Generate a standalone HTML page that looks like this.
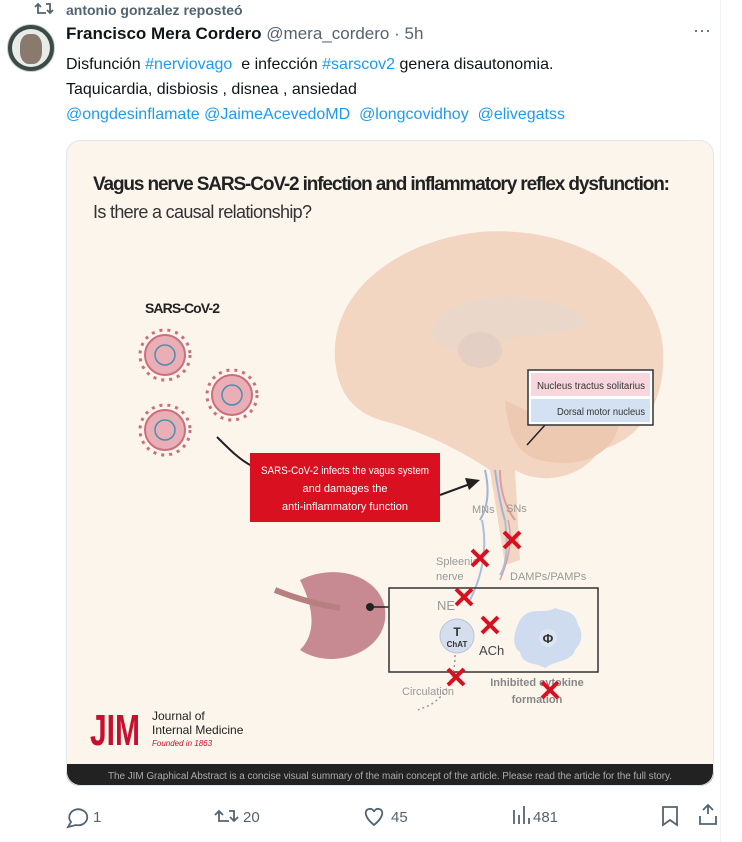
<!DOCTYPE html>
<html><head><meta charset="utf-8"><style>
body{margin:0;width:742px;height:842px;background:#fff;font-family:"Liberation Sans",sans-serif;overflow:hidden;position:relative}
.a{position:absolute;white-space:nowrap}
.b{color:#1d9bf0}
</style></head><body>
<div class="a" style="left:66px;top:2px;color:#536471;font-size:14px;font-weight:bold">antonio gonzalez reposteó</div>
<div class="a" style="left:7px;top:24px;width:46px;height:46px;border-radius:50%;background:#3a4a48;border:1px solid #ccc;overflow:hidden">
<div style="position:absolute;left:4px;top:4px;width:38px;height:38px;border-radius:50%;background:#e8ece8"></div>
<div style="position:absolute;left:12px;top:9px;width:22px;height:30px;background:#8a7a6e;border-radius:40%"></div></div>
<div class="a" style="left:66px;top:24px;font-size:17px"><b style="color:#0f1419">Francisco Mera Cordero</b> <span style="color:#536471">@mera_cordero · 5h</span></div>
<div class="a" style="left:693px;top:20px;color:#536471;font-size:18px">···</div>
<div class="a" style="left:66px;top:52px;font-size:16px;line-height:25px;color:#0f1419">Disfunción <span class="b">#nerviovago</span>&nbsp; e infección <span class="b">#sarscov2</span> genera disautonomia.<br>Taquicardia, disbiosis , disnea , ansiedad<br><span class="b">@ongdesinflamate @JaimeAcevedoMD &nbsp;@longcovidhoy &nbsp;@elivegatss</span></div>
<div class="a" style="left:720px;top:0;width:1px;height:842px;background:#eff3f4"></div>
<svg class="a" style="left:0;top:0" width="742" height="842" viewBox="0 0 742 842">
<defs><clipPath id="c"><rect x="66" y="140" width="648" height="646" rx="14"/></clipPath></defs>
<g fill="none" stroke="#536471" stroke-width="1.8">
<path d="M38 4 v9 h8 M35 7 l3 -3 l3 3 M46 4 h4 v9 M47 10 l3 3 l3 -3"/></g>
<g clip-path="url(#c)">
<rect x="66" y="140" width="648" height="646" fill="#fbf5ec"/>
<path d="M335 360 C330 290 400 240 480 232 C570 225 650 270 662 340 C670 400 640 440 600 450 C580 480 540 485 515 470 L520 560 L505 565 L490 470 C460 450 420 430 380 420 C350 410 338 390 335 360Z" fill="#f2d6c2"/>
<path d="M430 330 C450 290 540 285 590 320 C570 340 520 330 480 345 C455 355 440 350 430 330Z" fill="#ead7c9"/>
<ellipse cx="480" cy="350" rx="22" ry="18" fill="#e3cfc3"/>
<path d="M505 400 C540 420 590 430 620 420 C615 455 580 470 540 460 C520 455 508 440 505 400Z" fill="#eec9b2"/>
<path d="M485 470 Q492 500 480 520 M495 470 Q500 505 505 520" stroke="#9fb4d8" stroke-width="2" fill="none"/>
<path d="M500 470 Q500 500 515 520" stroke="#d8a0a8" stroke-width="2" fill="none"/>
<path d="M482 520 Q490 560 470 600 M505 520 Q510 560 500 575" stroke="#a8c0de" stroke-width="2" fill="none"/>
<path d="M508 520 Q515 545 500 580" stroke="#d8a0a8" stroke-width="1.5" fill="none"/>
<line x1="527" y1="445" x2="545" y2="425" stroke="#222" stroke-width="1.5"/>
<rect x="528" y="370" width="125" height="55" fill="#fff" stroke="#333" stroke-width="1.5"/>
<rect x="531" y="373" width="119" height="23" fill="#f7d6dd"/>
<rect x="531" y="399" width="119" height="23" fill="#d4e1f2"/>
<text x="645" y="389" font-size="10" fill="#333" text-anchor="end" textLength="108" lengthAdjust="spacingAndGlyphs">Nucleus tractus solitarius</text>
<text x="645" y="415" font-size="10" fill="#333" text-anchor="end" textLength="88" lengthAdjust="spacingAndGlyphs">Dorsal motor nucleus</text>
<text x="93" y="190" font-size="19" font-weight="bold" fill="#222" textLength="577">Vagus nerve SARS-CoV-2 infection and inflammatory reflex dysfunction:</text>
<text x="93" y="218" font-size="18" fill="#333" textLength="219">Is there a causal relationship?</text>
<text x="145" y="313" font-size="14" font-weight="bold" fill="#222" textLength="75">SARS-CoV-2</text>
<g fill="#e9aeb6" stroke="#cc6e7e" stroke-width="2">
<circle cx="165" cy="355" r="20"/><circle cx="232" cy="395" r="20"/><circle cx="165" cy="430" r="20"/></g>
<g stroke="#cc6e7e" stroke-width="3" stroke-dasharray="3 5" fill="none">
<circle cx="165" cy="355" r="25"/><circle cx="232" cy="395" r="25"/><circle cx="165" cy="430" r="25"/></g>
<g fill="none" stroke="#4b8fb0" stroke-width="1.5"><circle cx="165" cy="355" r="10"/><circle cx="232" cy="395" r="10"/><circle cx="165" cy="430" r="10"/></g>
<path d="M217 437 C230 450 240 460 252 466" stroke="#222" stroke-width="2" fill="none"/>
<rect x="250" y="453" width="190" height="69" fill="#d8101f"/>
<text x="345" y="474" font-size="11" fill="#fff" text-anchor="middle" textLength="168" lengthAdjust="spacingAndGlyphs">SARS-CoV-2 infects the vagus system</text>
<text x="345" y="492" font-size="11" fill="#fff" text-anchor="middle">and damages the</text>
<text x="345" y="510" font-size="11" fill="#fff" text-anchor="middle">anti-inflammatory function</text>
<line x1="440" y1="495" x2="470" y2="484" stroke="#222" stroke-width="2"/>
<path d="M480 480 L465 478 L469 490Z" fill="#222"/>
<g font-size="11" fill="#999"><text x="472" y="513">MNs</text><text x="506" y="512">SNs</text>
<text x="436" y="565">Spleenic</text><text x="436" y="580">nerve</text><text x="510" y="580">DAMPs/PAMPs</text>
<text x="437" y="610" font-size="13">NE</text><text x="402" y="695">Circulation</text></g>
<text x="479" y="655" font-size="13" fill="#444">ACh</text>
<text x="537" y="686" font-size="11" font-weight="bold" fill="#888" text-anchor="middle">Inhibited cytokine</text>
<text x="537" y="703" font-size="11" font-weight="bold" fill="#888" text-anchor="middle">formation</text>
<path d="M300 580 C340 560 390 580 385 620 C380 655 330 670 300 650 C320 630 310 600 300 580Z" fill="#c88a92"/>
<path d="M275 590 C300 600 320 605 340 608" stroke="#b78080" stroke-width="6" fill="none"/>
<circle cx="370" cy="607" r="4" fill="#222"/><line x1="370" y1="607" x2="389" y2="607" stroke="#222" stroke-width="1.5"/>
<rect x="389" y="588" width="209" height="84" fill="none" stroke="#333" stroke-width="1.5"/>
<circle cx="457" cy="636" r="17" fill="#d4deec" stroke="#b8c6da"/>
<text x="457" y="636" font-size="12" font-weight="bold" fill="#333" text-anchor="middle">T</text>
<text x="457" y="647" font-size="8" font-weight="bold" fill="#333" text-anchor="middle">ChAT</text>
<path d="M520 620 C530 605 545 615 555 608 C565 612 575 610 578 625 C585 635 580 645 575 650 C572 662 555 660 545 668 C535 662 522 665 520 652 C510 645 515 630 520 620Z" fill="#cfdbee"/>
<circle cx="548" cy="638" r="9" fill="#dbe4f0"/><text x="548" y="643" font-size="13" font-weight="bold" fill="#333" text-anchor="middle">Φ</text>
<path d="M455 655 Q455 690 430 705 L418 710" stroke="#999" stroke-dasharray="2 3" fill="none" stroke-width="1.5"/>
<g stroke="#d8101f" stroke-width="4">
<path d="M472 550 L488 566 M488 550 L472 566"/><path d="M504 532 L520 548 M520 532 L504 548"/>
<path d="M456 589 L472 605 M472 589 L456 605"/><path d="M482 617 L498 633 M498 617 L482 633"/>
<path d="M448 669 L464 685 M464 669 L448 685"/><path d="M542 682 L558 698 M558 682 L542 698"/></g>
<text x="90" y="745" font-size="44" font-weight="bold" fill="#c8102e" textLength="50" lengthAdjust="spacingAndGlyphs">JIM</text>
<text x="152" y="720" font-size="12" fill="#222">Journal of</text>
<text x="152" y="734" font-size="12" fill="#222">Internal Medicine</text>
<text x="152" y="746" font-size="8" font-style="italic" fill="#c8102e">Founded in 1863</text>
<rect x="66" y="764" width="648" height="22" fill="#222"/>
<text x="390" y="779" font-size="10" fill="#aaa" text-anchor="middle" textLength="564">The JIM Graphical Abstract is a concise visual summary of the main concept of the article. Please read the article for the full story.</text>
</g>
<rect x="66.5" y="140.5" width="647" height="645" rx="14" fill="none" stroke="#e1e8ed"/>
<g fill="none" stroke="#536471" stroke-width="1.8">
<path d="M76 825 a9 8 0 1 0 -5 -3 l-3 5z"/>
<path d="M677 807 v18 l-7 -5 l-7 5 v-18z"/>
<path d="M708 814 v-9 m-5 5 l5 -5 l5 5 M700 816 v8 h16 v-8"/>
<path d="M374 825 C364 817 364 810 369 809 C372 808 374 811 374 812 C374 811 376 808 379 809 C384 810 384 817 374 825Z"/>
<path d="M514 810 v14 M519 815 v9 M524 806 v18 M529 818 v6"/>
<path d="M219 811 v10 h10 M215 815 l4 -4 l4 4 M229 811 h5 v10 M230 817 l4 4 l4 -4"/>
</g>
<g font-size="15" fill="#536471"><text x="93" y="822">1</text><text x="243" y="822">20</text><text x="391" y="822">45</text><text x="533" y="822">481</text></g>
</svg>
</body></html>
